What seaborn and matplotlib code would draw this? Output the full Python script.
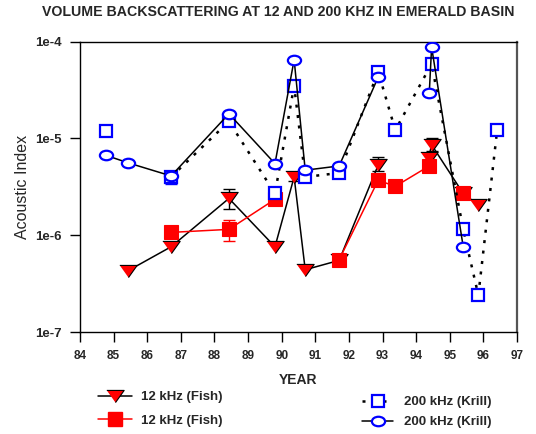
import matplotlib
matplotlib.use("Agg")
import matplotlib.pyplot as plt
from matplotlib.lines import Line2D
from matplotlib.path import Path
from matplotlib.transforms import Affine2D
import pandas as pd
import seaborn as sns

sns.set_theme(style="ticks")
plt.rcParams['font.family'] = ['Liberation Sans', 'DejaVu Sans']

# 12 kHz (Fish) - triangles, black line
tri_year = [85.43, 86.71, 88.43, 89.80, 90.37, 90.70, 91.71, 92.87, 94.37, 94.46, 95.40, 95.85]
tri_val = [4.3e-7, 7.6e-7, 2.4e-6, 7.6e-7, 4.0e-6, 4.4e-7, 5.5e-7, 5.3e-6, 6.3e-6, 8.6e-6, 2.7e-6, 2.05e-6]
tri_seg = [0, 0, 0, 0, 0, 0, 0, 0, 1, 1, 1, 1]

# 12 kHz (Fish) - red squares, red line
fsq_year = [86.71, 88.43, 89.80, 91.71, 92.87, 93.38, 94.39, 95.40]
fsq_val = [1.07e-6, 1.15e-6, 2.35e-6, 5.6e-7, 3.7e-6, 3.2e-6, 5.2e-6, 2.7e-6]
fsq_seg = [0, 0, 0, 1, 1, 1, 1, 2]

# 200 kHz (Krill) - open squares, dotted line
ksq_year = [84.77, 86.71, 88.43, 89.80, 90.37, 90.70, 91.71, 92.87, 93.38, 94.46, 95.40, 95.85, 96.41]
ksq_val = [1.2e-5, 4.0e-6, 1.5e-5, 2.7e-6, 3.5e-5, 4.0e-6, 4.4e-6, 4.9e-5, 1.22e-5, 5.9e-5, 1.15e-6, 2.4e-7, 1.22e-5]
ksq_seg = [0, 1, 1, 1, 1, 1, 1, 1, 1, 1, 1, 1, 1]

# 200 kHz (Krill) - open circles, solid line
kci_year = [84.77, 85.43, 86.71, 88.43, 89.80, 90.37, 90.70, 91.71, 92.87, 94.39, 94.46, 95.40]
kci_val = [6.7e-6, 5.6e-6, 4.1e-6, 1.8e-5, 5.5e-6, 6.5e-5, 4.7e-6, 5.2e-6, 4.3e-5, 2.95e-5, 8.8e-5, 7.6e-7]
kci_seg = [0, 0, 0, 0, 0, 0, 0, 0, 0, 1, 1, 1]

# error bars (centre, low, high)
tri_err_year = [88.43, 90.37, 92.87, 94.46]
tri_err_mid = [2.4e-6, 4.0e-6, 5.3e-6, 8.6e-6]
tri_err_lo = [1.85e-6, 3.6e-6, 4.6e-6, 7.4e-6]
tri_err_hi = [3.0e-6, 4.5e-6, 6.4e-6, 1.0e-5]
fsq_err_year = [88.43]
fsq_err_mid = [1.15e-6]
fsq_err_lo = [8.7e-7]
fsq_err_hi = [1.45e-6]
kci_err_year = [86.71]
kci_err_mid = [4.1e-6]
kci_err_lo = [3.4e-6]
kci_err_hi = [4.1e-6]

RED = "#FF0000"
BLUE = "#0000FF"
ellipse = Path.unit_circle().transformed(Affine2D().scale(1.0, 0.72))
flat_tri = [(-1, 0.7), (1, 0.7), (0, -0.7)]


def err(mid, lo, hi):
    return [[m - l for m, l in zip(mid, lo)], [h - m for m, h in zip(mid, hi)]]


fig = plt.figure(figsize=(5.36, 4.34), dpi=100)
ax = fig.add_axes([80 / 536, 1 - 332 / 434, (517 - 80) / 536, (332 - 41.7) / 434])
ax.set_yscale('log')

tri_df = pd.DataFrame({"year": tri_year, "val": tri_val, "seg": tri_seg})
fsq_df = pd.DataFrame({"year": fsq_year, "val": fsq_val, "seg": fsq_seg})
ksq_df = pd.DataFrame({"year": ksq_year, "val": ksq_val, "seg": ksq_seg})
kci_df = pd.DataFrame({"year": kci_year, "val": kci_val, "seg": kci_seg})

# error bars behind markers
ax.errorbar(tri_err_year, tri_err_mid, yerr=err(tri_err_mid, tri_err_lo, tri_err_hi),
            fmt='none', ecolor='black', elinewidth=1, capsize=4, zorder=2)
ax.errorbar(fsq_err_year, fsq_err_mid, yerr=err(fsq_err_mid, fsq_err_lo, fsq_err_hi),
            fmt='none', ecolor=RED, elinewidth=1, capsize=4, zorder=3)
ax.errorbar(kci_err_year, kci_err_mid, yerr=err(kci_err_mid, kci_err_lo, kci_err_hi),
            fmt='none', ecolor=BLUE, elinewidth=1, capsize=4, zorder=4)

sns.lineplot(data=tri_df, x="year", y="val", units="seg", estimator=None, sort=False,
             color="black", lw=1.1, marker=flat_tri, markersize=12.5, markerfacecolor=RED,
             markeredgecolor="black", markeredgewidth=0.8, legend=False, ax=ax, zorder=3)
sns.lineplot(data=fsq_df, x="year", y="val", units="seg", estimator=None, sort=False,
             color=RED, lw=1.1, marker="s", markersize=10.5, markerfacecolor=RED,
             markeredgecolor=RED, markeredgewidth=0.8, legend=False, ax=ax, zorder=4)
sns.lineplot(data=ksq_df, x="year", y="val", units="seg", estimator=None, sort=False,
             color="black", lw=1.8, linestyle=(0, (1.2, 3.0)), marker="s", markersize=8,
             markerfacecolor="white", markeredgecolor=BLUE, markeredgewidth=1.6,
             legend=False, ax=ax, zorder=5)
sns.lineplot(data=kci_df, x="year", y="val", units="seg", estimator=None, sort=False,
             color="black", lw=1.1, marker=ellipse, markersize=9.5, markerfacecolor="white",
             markeredgecolor=BLUE, markeredgewidth=1.6, legend=False, ax=ax, zorder=6)

ax.set_xlim(84, 97)
ax.set_ylim(1e-7, 1e-4)
ax.set_xticks(range(84, 98))
ax.set_xticklabels([str(v) for v in range(84, 98)], fontweight='bold', fontsize=8.5)
ax.set_yticks([1e-7, 1e-6, 1e-5, 1e-4])
ax.set_yticklabels(["1e-7", "1e-6", "1e-5", "1e-4"], fontweight='bold', fontsize=9.5)
ax.yaxis.set_minor_locator(matplotlib.ticker.NullLocator())
ax.tick_params(direction='out', length=7, width=1, color='black', pad=6)
for s in ax.spines.values():
    s.set_color('black')
    s.set_linewidth(1)
ax.spines['right'].set_linewidth(1.6)
ax.spines['right'].set_color('#555555')

ax.set_xlabel("YEAR", fontweight='bold', fontsize=10, labelpad=8)
ax.set_ylabel("Acoustic Index", fontsize=11.5, labelpad=4)

fig.text(278 / 536, 1 - 12 / 434, "VOLUME BACKSCATTERING AT 12 AND 200 KHZ IN EMERALD BASIN",
         ha='center', va='center', fontweight='bold', fontsize=10.2)

tri_h = Line2D([], [], color='black', lw=1.1, marker=flat_tri, markersize=12.5,
               markerfacecolor=RED, markeredgecolor='black', markeredgewidth=0.8)
fsq_h = Line2D([], [], color=RED, lw=1.1, marker='s', markersize=10.5,
               markerfacecolor=RED, markeredgecolor=RED)
ksq_h = Line2D([], [], color='black', lw=1.8, linestyle=(0, (1.2, 3.0)), marker='s',
               markersize=8, markerfacecolor='white', markeredgecolor=BLUE, markeredgewidth=1.6)
kci_h = Line2D([], [], color='black', lw=1.1, marker=ellipse, markersize=9.5,
               markerfacecolor='white', markeredgecolor=BLUE, markeredgewidth=1.6)

prop = {'weight': 'bold', 'size': 9.5}
fig.legend(handles=[tri_h, fsq_h], labels=["12 kHz (Fish)", "12 kHz (Fish)"],
           loc='upper left', bbox_to_anchor=(98 / 536, 1 - 391 / 434), frameon=False,
           borderpad=0, borderaxespad=0, handlelength=2.6, handletextpad=0.65,
           labelspacing=0.85, prop=prop)
fig.legend(handles=[ksq_h, kci_h], labels=["200 kHz (Krill)", "200 kHz (Krill)"],
           loc='upper left', bbox_to_anchor=(362 / 536, 1 - 396 / 434), frameon=False,
           borderpad=0, borderaxespad=0, handlelength=2.35, handletextpad=0.8,
           labelspacing=0.6, prop=prop)

fig.savefig("out.png", dpi=100)
